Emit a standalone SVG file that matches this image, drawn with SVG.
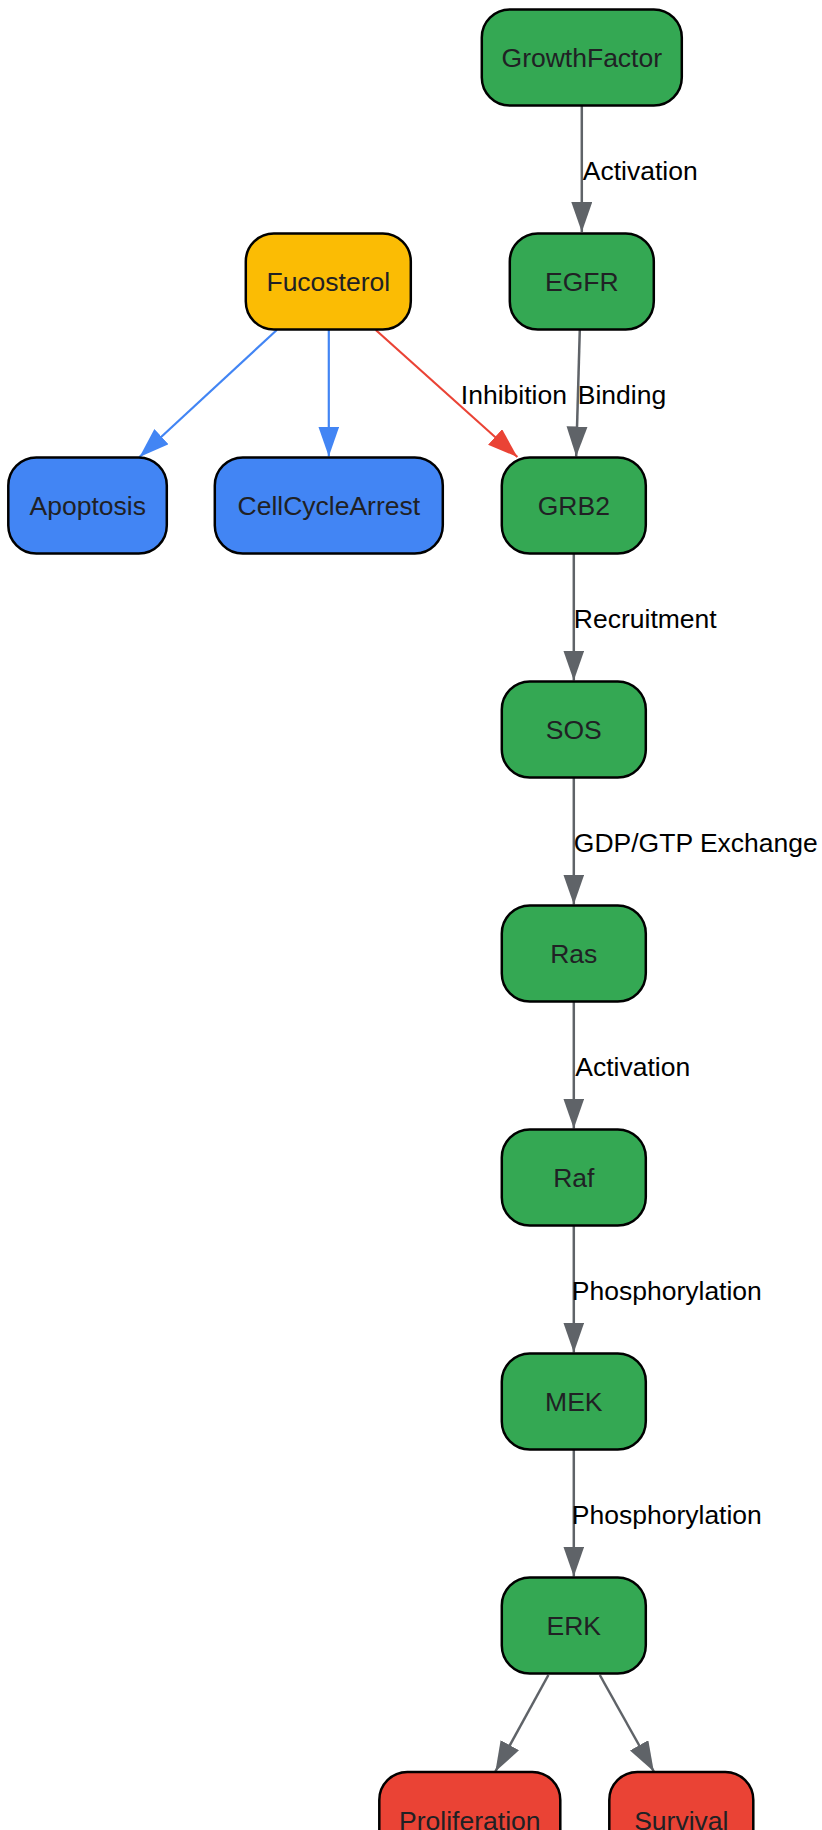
<svg xmlns="http://www.w3.org/2000/svg" width="822" height="1830" viewBox="0 0 822 1830">
<style>
.n{stroke:#000;stroke-width:2.5}
.g{fill:#34a853}.y{fill:#fbbc04}.b{fill:#4285f4}.r{fill:#ea4335}
.t{font-family:"Liberation Sans",Arial,sans-serif;font-size:26.5px;fill:#202124;text-anchor:middle}
.l{font-family:"Liberation Sans",Arial,sans-serif;font-size:26.5px;fill:#000;text-anchor:start}
.eg{stroke:#5f6368;stroke-width:2.5;fill:none}
.eb{stroke:#4285f4;stroke-width:2.2;fill:none}
.er{stroke:#ea4335;stroke-width:2.2;fill:none}
</style>
<defs>
<marker id="ag" markerUnits="userSpaceOnUse" markerWidth="31" markerHeight="22" refX="30" refY="10.5" orient="auto"><path d="M0,0 L30,10.5 L0,21 z" fill="#5f6368"/></marker>
<marker id="ab" markerUnits="userSpaceOnUse" markerWidth="31" markerHeight="22" refX="30" refY="10.5" orient="auto"><path d="M0,0 L30,10.5 L0,21 z" fill="#4285f4"/></marker>
<marker id="ar" markerUnits="userSpaceOnUse" markerWidth="31" markerHeight="22" refX="30" refY="10.5" orient="auto"><path d="M0,0 L30,10.5 L0,21 z" fill="#ea4335"/></marker>
</defs>
<rect width="822" height="1830" fill="#fff"/>
<g transform="translate(-1.2,0)">
<g id="edges">
<line class="eg" x1="583" y1="105.5" x2="583" y2="232" marker-end="url(#ag)"/>
<line class="eb" x1="278" y1="330" x2="140.7" y2="457" marker-end="url(#ab)"/>
<line class="eb" x1="330" y1="329.5" x2="330" y2="456.5" marker-end="url(#ab)"/>
<line class="er" x1="377" y1="330" x2="518.6" y2="457" marker-end="url(#ar)"/>
<line class="eg" x1="581" y1="329.5" x2="577.4" y2="456.5" marker-end="url(#ag)"/>
<line class="eg" x1="575" y1="553.5" x2="575" y2="680.5" marker-end="url(#ag)"/>
<line class="eg" x1="575" y1="777.5" x2="575" y2="904.5" marker-end="url(#ag)"/>
<line class="eg" x1="575" y1="1001.5" x2="575" y2="1128.5" marker-end="url(#ag)"/>
<line class="eg" x1="575" y1="1225.5" x2="575" y2="1352.5" marker-end="url(#ag)"/>
<line class="eg" x1="575" y1="1449.5" x2="575" y2="1576.5" marker-end="url(#ag)"/>
<line class="eg" x1="549.6" y1="1675" x2="496.6" y2="1771.5" marker-end="url(#ag)"/>
<line class="eg" x1="601" y1="1675" x2="655" y2="1771.5" marker-end="url(#ag)"/>
<text class="l" x="584" y="179.5">Activation</text>
<text class="l" x="462" y="404">Inhibition</text>
<text class="l" x="579" y="404">Binding</text>
<text class="l" x="575" y="628">Recruitment</text>
<text class="l" x="575" y="852">GDP/GTP Exchange</text>
<text class="l" x="576.5" y="1076">Activation</text>
<text class="l" x="573" y="1300">Phosphorylation</text>
<text class="l" x="573" y="1524">Phosphorylation</text>
</g>
<g id="GrowthFactor"><rect class="n g" x="483" y="9.5" width="200" height="96" rx="28"/><text class="t" x="583" y="67">GrowthFactor</text></g>
<g id="EGFR"><rect class="n g" x="511" y="233.5" width="144" height="96" rx="28"/><text class="t" x="583" y="291">EGFR</text></g>
<g id="Fucosterol"><rect class="n y" x="247" y="233.5" width="165" height="96" rx="28"/><text class="t" x="329.5" y="291">Fucosterol</text></g>
<g id="Apoptosis"><rect class="n b" x="9.5" y="457.5" width="158.5" height="96" rx="28"/><text class="t" x="89" y="515">Apoptosis</text></g>
<g id="CellCycleArrest"><rect class="n b" x="216" y="457.5" width="228" height="96" rx="28"/><text class="t" x="330" y="515">CellCycleArrest</text></g>
<g id="GRB2"><rect class="n g" x="503" y="457.5" width="144" height="96" rx="28"/><text class="t" x="575" y="515">GRB2</text></g>
<g id="SOS"><rect class="n g" x="503" y="681.5" width="144" height="96" rx="28"/><text class="t" x="575" y="739">SOS</text></g>
<g id="Ras"><rect class="n g" x="503" y="905.5" width="144" height="96" rx="28"/><text class="t" x="575" y="963">Ras</text></g>
<g id="Raf"><rect class="n g" x="503" y="1129.5" width="144" height="96" rx="28"/><text class="t" x="575" y="1187">Raf</text></g>
<g id="MEK"><rect class="n g" x="503" y="1353.5" width="144" height="96" rx="28"/><text class="t" x="575" y="1411">MEK</text></g>
<g id="ERK"><rect class="n g" x="503" y="1577.5" width="144" height="96" rx="28"/><text class="t" x="575" y="1635">ERK</text></g>
<g id="Proliferation"><rect class="n r" x="380.5" y="1772" width="181" height="96" rx="28"/><text class="t" x="471" y="1829.5">Proliferation</text></g>
<g id="Survival"><rect class="n r" x="610.5" y="1772" width="144" height="96" rx="28"/><text class="t" x="682.5" y="1829.5">Survival</text></g>
</g>
</svg>
